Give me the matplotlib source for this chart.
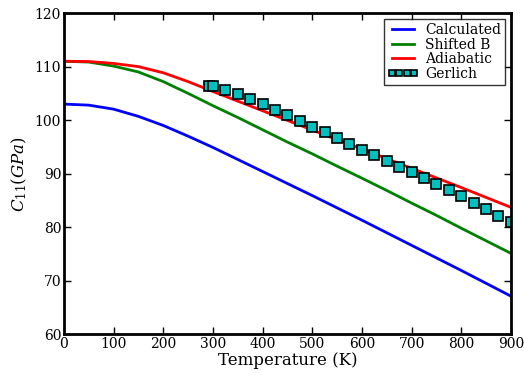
import matplotlib
matplotlib.use("Agg")
import matplotlib.pyplot as plt

plt.rcParams['font.family'] = ['DejaVu Serif']
plt.rcParams['mathtext.fontset'] = 'dejavuserif'

T = [0, 50, 100, 150, 200, 250, 300, 350, 400, 450, 500, 550, 600, 650, 700, 750, 800, 850, 900]
calculated = [103.0, 102.8, 102.05, 100.7, 99.0, 97.0, 94.9, 92.65, 90.4, 88.15, 85.9, 83.6, 81.3, 78.95, 76.6, 74.25, 71.9, 69.5, 67.1]
shifted_b = [111.0, 110.85, 110.1, 109.0, 107.2, 105.0, 102.7, 100.5, 98.2, 95.9, 93.7, 91.4, 89.15, 86.85, 84.5, 82.2, 79.8, 77.45, 75.1]
adiabatic = [111.0, 110.95, 110.6, 110.0, 108.85, 107.2, 105.35, 103.55, 101.75, 99.95, 98.15, 96.35, 94.6, 92.8, 91.0, 89.2, 87.4, 85.55, 83.7]

gerlich_T = [293, 300, 325, 350, 375, 400, 425, 450, 475, 500, 525, 550, 575, 600, 625, 650, 675, 700, 725, 750, 775, 800, 825, 850, 875, 900]
gerlich_C = [106.4, 106.4, 105.6, 104.9, 103.9, 103.0, 101.9, 100.9, 99.8, 98.8, 97.7, 96.6, 95.6, 94.5, 93.4, 92.35, 91.3, 90.3, 89.1, 88.05, 86.9, 85.8, 84.6, 83.4, 82.1, 80.9]

fig = plt.figure(figsize=(5.24, 3.75), dpi=100)
ax = fig.add_axes([0.122, 0.109, 0.853, 0.856])

ax.plot(T, calculated, color='blue', lw=2, label='Calculated')
ax.plot(T, shifted_b, color='green', lw=2, label='Shifted B')
ax.plot(T, adiabatic, color='red', lw=2, label='Adiabatic')
ax.plot(gerlich_T, gerlich_C, ls='none', marker='s', ms=7, mfc='#00bfbf', mec='black', mew=1.2, label='Gerlich')

ax.set_xlim(0, 900)
ax.set_ylim(60, 120)
ax.set_xticks(range(0, 901, 100))
ax.set_yticks(range(60, 121, 10))
ax.tick_params(direction='in', top=True, right=True, length=5, width=1, labelsize=10, pad=2)
for s in ax.spines.values():
    s.set_linewidth(2)
ax.set_xlabel('Temperature (K)', fontsize=12, labelpad=1)
ax.set_ylabel(r'$C_{11}(GPa)$', fontsize=12)

leg = ax.legend(loc='upper right', fontsize=10, numpoints=4, fancybox=False, handlelength=2.2,
                labelspacing=0.05, borderpad=0.3, handletextpad=0.5, borderaxespad=0.4, markerscale=0.6)
leg.get_frame().set_edgecolor('black')
leg.get_frame().set_linewidth(1)

fig.savefig('out.png', dpi=100)
